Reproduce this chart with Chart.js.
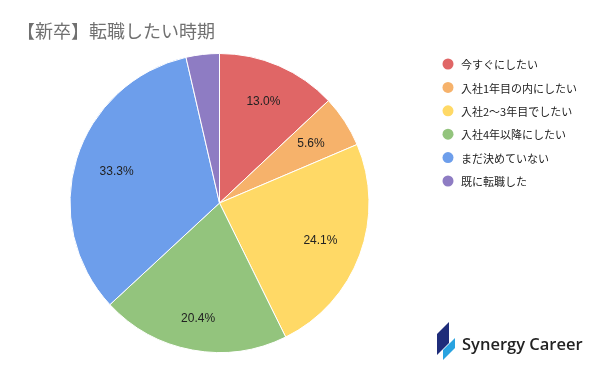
<!DOCTYPE html>
<html>
<head>
<meta charset="utf-8">
<script src="https://cdn.jsdelivr.net/npm/chart.js@4"></script>
<style>
  html, body { margin: 0; padding: 0; background: #fff; }
  #wrap { width: 600px; height: 371px; position: relative; }
</style>
</head>
<body>
<div id="wrap"><canvas id="pie" width="600" height="371"></canvas></div>
<script>
// ---------- data ----------
const chartTitle = '【新卒】転職したい時期';
const labels = ['今すぐにしたい', '入社1年目の内にしたい', '入社2〜3年目でしたい', '入社4年以降にしたい', 'まだ決めていない', '既に転職した'];
const values = [13.0, 5.6, 24.1, 20.4, 33.3, 3.6];
const colors = ['#E06666', '#F6B26B', '#FFD966', '#93C47D', '#6D9EEB', '#8E7CC3'];
const brand = 'Synergy Career';

// how far out each slice label sits (fraction of radius)
const labelRadius = [0.74, 0.73, 0.72, 0.79, 0.72, 0.73];

const JP = '"Noto Sans CJK JP", "Noto Sans", sans-serif';

// slice labels inside the pie
const sliceLabels = {
  id: 'sliceLabels',
  afterDatasetsDraw(chart) {
    const ctx = chart.ctx;
    const meta = chart.getDatasetMeta(0);
    ctx.save();
    ctx.font = '12px "Liberation Sans", Arial, sans-serif';
    ctx.fillStyle = '#222';
    ctx.textAlign = 'center';
    ctx.textBaseline = 'middle';
    meta.data.forEach((arc, i) => {
      if (values[i] < 5) return;
      const mid = (arc.startAngle + arc.endAngle) / 2;
      const r = arc.outerRadius * labelRadius[i];
      ctx.fillText(values[i].toFixed(1) + '%', arc.x + Math.cos(mid) * r, arc.y + Math.sin(mid) * r);
    });
    ctx.restore();
  }
};

// title, legend and logo
const decor = {
  id: 'decor',
  afterDraw(chart) {
    const ctx = chart.ctx;
    ctx.save();
    ctx.font = '18px ' + JP;
    ctx.fillStyle = '#707070';
    ctx.textBaseline = 'middle';
    ctx.fillText(chartTitle, 17, 31);

    ctx.font = '11px ' + JP;
    labels.forEach((lab, i) => {
      const y = 64 + i * 23.4;
      ctx.fillStyle = colors[i];
      ctx.beginPath();
      ctx.arc(448, y, 5.5, 0, Math.PI * 2);
      ctx.fill();
      ctx.fillStyle = '#222';
      ctx.fillText(lab, 461, y + 1);
    });

    // logo mark
    ctx.fillStyle = '#1F2D7A';
    ctx.beginPath();
    ctx.moveTo(444, 327); ctx.lineTo(449, 322); ctx.lineTo(449, 343); ctx.lineTo(437, 355); ctx.lineTo(437, 334);
    ctx.closePath(); ctx.fill();
    ctx.fillStyle = '#29A3E0';
    ctx.beginPath();
    ctx.moveTo(455, 338); ctx.lineTo(455, 348); ctx.lineTo(443, 360); ctx.lineTo(443, 350);
    ctx.closePath(); ctx.fill();

    ctx.font = '600 16.5px "Open Sans", "Noto Sans", sans-serif';
    ctx.fillStyle = '#222';
    ctx.fillText(brand, 462, 345);
    ctx.restore();
  }
};

new Chart(document.getElementById('pie'), {
  type: 'pie',
  data: {
    labels: labels,
    datasets: [{
      data: values,
      backgroundColor: colors,
      borderColor: '#fff',
      borderWidth: 1
    }]
  },
  options: {
    responsive: false,
    animation: false,
    layout: { padding: { top: 53, bottom: 18, left: 69.5, right: 230.5 } },
    plugins: {
      legend: { display: false },
      tooltip: { enabled: false }
    }
  },
  plugins: [sliceLabels, decor]
});
</script>
</body>
</html>
